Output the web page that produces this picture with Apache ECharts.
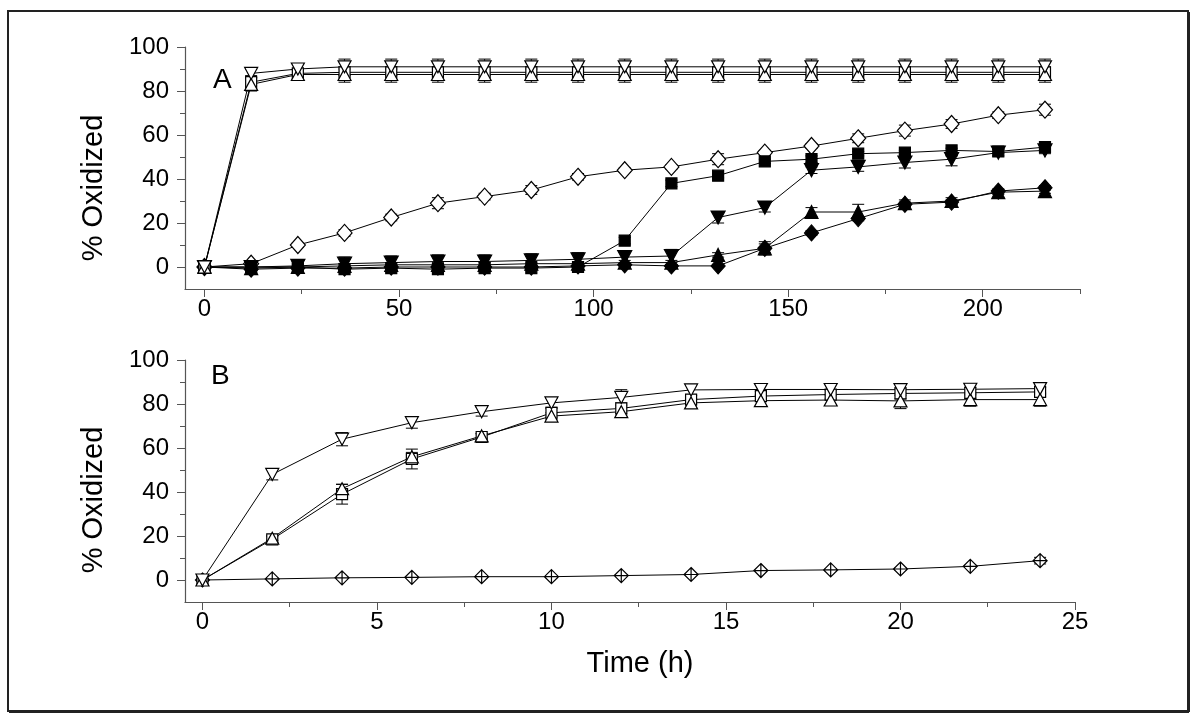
<!DOCTYPE html>
<html><head><meta charset="utf-8">
<script src="https://cdn.jsdelivr.net/npm/echarts@6/dist/echarts.min.js"></script>
<style>html,body{margin:0;padding:0;background:#fff}#c{width:1200px;height:724px}</style>
</head><body><div id="c"></div>
<script>
// ---------- Panel A data (time in h) ----------
const timeA = [0,12,24,36,48,60,72,84,96,108,120,132,144,156,168,180,192,204,216];
const aOpenDown   = [0,88,90,91,91,91,91,91,91,91,91,91,91,91,91,91,91,91,91];
const aOpenDownErr= [0,2,2.5,3.5,3.5,3.5,3.5,3.5,3.5,3.5,3.5,3.5,3.5,3.5,3.5,3.5,3.5,3.5,3.5];
const aOpenSquare = [0,84,88,88.5,88.5,88.5,88.5,88.5,88.5,88.5,88.5,88.5,88.5,88.5,88.5,88.5,88.5,88.5,88.5];
const aOpenSquareErr=[0,3,1.5,1.5,1.5,1.5,1.5,1.5,1.5,1.5,1.5,1.5,1.5,1.5,1.5,1.5,1.5,1.5,1.5];
const aOpenUp     = [0,83,87.5,87.5,87.5,87.5,87.5,87.5,87.5,87.5,87.5,87.5,87.5,87.5,87.5,87.5,87.5,87.5,87.5];
const aOpenUpErr  = [0,3,2.5,3.5,3.5,3.5,3.5,3.5,3.5,3.5,3.5,3.5,3.5,3.5,3.5,3.5,3.5,3.5,3.5];
const aOpenDiamond= [0,1.5,10,15.5,22.5,29,32,35,41,44,45.5,49,52,55,58.5,62,65,69,71.5];
const aOpenDiamondErr=[0,0.5,1,1.5,1.5,2.5,1.5,2,1.5,1,1,2.5,1,1,2,2.5,2,1.5,2.5];
const aSquare     = [0,0,0,-1,-0.5,-1,-0.5,-0.5,0,12,38,41.5,48,49,51.5,52,53,52.5,54.5];
const aSquareErr  = [0,0.5,0.5,0.5,0.5,0.5,0.5,0.5,0.5,1.5,1.5,1,1,1.5,1,1,1,1,1];
const aDown       = [0,0,0.5,1.5,2,2.5,2.5,3,3.5,4.5,5,22.5,27,44,45.5,47.5,49,52,53];
const aDownErr    = [0,1,1,3,3,3,3,3,3,3,3,2.5,2,1.5,2,2.5,3,1.5,1.5];
const aUp         = [0,-0.5,0,0.5,1,1,1,1.5,1.5,2,2,5.5,8.5,25,25,29,30,34,34.5];
const aUpErr      = [0,1,1,1,1,1,1,1,1,1,1,1,2,2,3.5,1.5,1.5,1,1];
const aDiamond    = [0,-1,-0.5,-0.5,0,0,0,0,0.5,1,0.5,0.5,8.5,15.5,22,28.5,29.5,34.5,36];
const aDiamondErr = [0,0.5,0.5,0.5,0.5,0.5,0.5,0.5,0.5,0.5,0.5,0.5,3,1,1,1,1,1,1];

// ---------- Panel B data ----------
const timeB = [0,2,4,6,8,10,12,14,16,18,20,22,24];
const bOpenDown    = [0,48,64,71.5,76.5,80.5,83,86.4,86.6,86.6,86.5,86.7,87];
const bOpenDownErr = [0,2.5,3,2.5,2,2,3.5,2.5,2.5,2.5,2.5,2.5,2.5];
const bOpenSquare  = [0,18.5,39,55,65,76,78,82,83.6,84.3,84.8,85.1,85.5];
const bOpenSquareErr=[0,1.5,4.5,4.5,1.5,2,2.5,2,2,2,2.5,2.5,2];
const bOpenUp      = [0,19,41.5,56,65.5,74.5,76.5,80.5,81.5,81.8,81.4,82,82];
const bOpenUpErr   = [0,1,2,2,1,1.5,2,2,2.5,2.5,3.5,3,3];
const bCrossDiamond= [0,0.5,1,1.2,1.5,1.5,2,2.5,4.3,4.6,5,6.2,8.8];
const bCrossDiamondErr=[0,0.5,0.5,0.5,0.5,0.5,0.5,0.5,0.5,0.5,0.5,0.5,1.5];

// ---------- Tick values ----------
const yMajor = [0,20,40,60,80,100];
const yMinor = [10,30,50,70,90];
const xMajorA = [0,50,100,150,200];
const xMinorA = [25,75,125,175,225];
const xMajorB = [0,5,10,15,20,25];
const xMinorB = [2.5,7.5,12.5,17.5,22.5];

const FONT = '"Liberation Sans", Arial, Helvetica, sans-serif';
const AX = '#555';
const crossDiamond = 'path://M10,0 L20,10 L10,20 L0,10 Z M10,0 L10,20 M0,10 L20,10';

function pairs(xs, ys){ return xs.map((x,i)=>[x, ys[i]]); }
function triples(xs, ys, es){ return xs.map((x,i)=>[x, ys[i], es[i]]); }

function errRender(params, api){
  const x = api.value(0), y = api.value(1), e = api.value(2);
  if (!e) return null;
  const hi = api.coord([x, y + e]), lo = api.coord([x, y - e]);
  const w = 6;
  const st = {stroke:'#000', lineWidth:1, fill:null};
  return {type:'group', children:[
    {type:'line', shape:{x1:hi[0],y1:hi[1],x2:lo[0],y2:lo[1]}, style:st},
    {type:'line', shape:{x1:hi[0]-w,y1:hi[1],x2:hi[0]+w,y2:hi[1]}, style:st},
    {type:'line', shape:{x1:lo[0]-w,y1:lo[1],x2:lo[0]+w,y2:lo[1]}, style:st}
  ]};
}

function lineS(ax, xs, ys, symbol, size, filled, rotate){
  return {
    type:'line', xAxisIndex:ax, yAxisIndex:ax, data:pairs(xs,ys),
    symbol:symbol, symbolSize:size, symbolRotate:rotate||0, showAllSymbol:true,
    lineStyle:{color:'#000', width:1}, z:3, animation:false,
    itemStyle:{color: filled ? '#000' : '#fff', borderColor:'#000', borderWidth:1.2, opacity:1}
  };
}
function errS(ax, xs, ys, es){
  return {type:'custom', xAxisIndex:ax, yAxisIndex:ax, renderItem:errRender,
    data:triples(xs,ys,es), encode:{x:0,y:1}, z:2, animation:false, silent:true};
}

function xAxisMajor(grid, min, max, major){
  return {type:'value', gridIndex:grid, min:min, max:max, position:'bottom',
    axisLine:{show:true, onZero:false, lineStyle:{color:AX, width:1.2}},
    axisTick:{show:true, customValues:major, length:8, inside:false, lineStyle:{color:AX}},
    axisLabel:{show:true, customValues:major, color:'#000', fontSize:24, fontFamily:FONT, margin:8},
    splitLine:{show:false}};
}
function xAxisMinor(grid, min, max, minor){
  return {type:'value', gridIndex:grid, min:min, max:max, position:'bottom',
    axisLine:{show:false, onZero:false},
    axisTick:{show:true, customValues:minor, length:5, lineStyle:{color:AX}},
    axisLabel:{show:false}, splitLine:{show:false}};
}
function yAxisMajor(grid){
  return {type:'value', gridIndex:grid, min:-10, max:100, position:'left',
    axisLine:{show:true, onZero:false, lineStyle:{color:AX, width:1.2}},
    axisTick:{show:true, customValues:yMajor, length:8, lineStyle:{color:AX}},
    axisLabel:{show:true, customValues:yMajor, color:'#000', fontSize:24, fontFamily:FONT, margin:16},
    splitLine:{show:false}};
}
function yAxisMinor(grid){
  return {type:'value', gridIndex:grid, min:-10, max:100, position:'left',
    axisLine:{show:false, onZero:false},
    axisTick:{show:true, customValues:yMinor, length:5, lineStyle:{color:AX}},
    axisLabel:{show:false}, splitLine:{show:false}};
}

const chart = echarts.init(document.getElementById('c'), null, {renderer:'canvas'});
const series = [
  // Panel A (axis index 0)
  errS(0,timeA,aOpenDiamond,aOpenDiamondErr),
  errS(0,timeA,aSquare,aSquareErr),
  errS(0,timeA,aDown,aDownErr),
  errS(0,timeA,aUp,aUpErr),
  errS(0,timeA,aDiamond,aDiamondErr),
  errS(0,timeA,aOpenDown,aOpenDownErr),
  errS(0,timeA,aOpenSquare,aOpenSquareErr),
  errS(0,timeA,aOpenUp,aOpenUpErr),
  lineS(0,timeA,aOpenDiamond,'diamond',[15,17],false),
  lineS(0,timeA,aDiamond,'diamond',[14,16],true),
  lineS(0,timeA,aUp,'triangle',[13,13],true),
  lineS(0,timeA,aDown,'triangle',[14,13],true,180),
  lineS(0,timeA,aSquare,'rect',[11,11],true),
  lineS(0,timeA,aOpenSquare,'rect',[11,11],false),
  lineS(0,timeA,aOpenUp,'triangle',[13,12],false),
  lineS(0,timeA,aOpenDown,'triangle',[13,12],false,180),
  // Panel B (axis index 2)
  errS(2,timeB,bOpenDown,bOpenDownErr),
  errS(2,timeB,bOpenSquare,bOpenSquareErr),
  errS(2,timeB,bOpenUp,bOpenUpErr),
  errS(2,timeB,bCrossDiamond,bCrossDiamondErr),
  lineS(2,timeB,bCrossDiamond,crossDiamond,[14,14],false),
  lineS(2,timeB,bOpenSquare,'rect',[11,11],false),
  lineS(2,timeB,bOpenUp,'triangle',[13,12],false),
  lineS(2,timeB,bOpenDown,'triangle',[13,12],false,180)
];

chart.setOption({
  animation:false,
  backgroundColor:'#fff',
  grid:[
    {left:185, top:47, width:895, height:242},
    {left:185, top:360, width:890, height:242}
  ],
  xAxis:[
    xAxisMajor(0,-5,225,xMajorA), xAxisMinor(0,-5,225,xMinorA),
    xAxisMajor(1,-0.5,25,xMajorB), xAxisMinor(1,-0.5,25,xMinorB)
  ],
  yAxis:[ yAxisMajor(0), yAxisMinor(0), yAxisMajor(1), yAxisMinor(1) ],
  series:series,
  graphic:[
    {type:'rect', shape:{x:8,y:11,width:1180,height:700}, style:{fill:null, stroke:'#222', lineWidth:2}, z:0},
    {type:'line', shape:{x1:9,y1:712,x2:1189,y2:712}, style:{stroke:'#222', lineWidth:2}},
    {type:'line', shape:{x1:1189,y1:12,x2:1189,y2:712}, style:{stroke:'#222', lineWidth:2}},
    {type:'text', left:213, top:66, style:{text:'A', font:'28px '+FONT, fill:'#000'}},
    {type:'text', left:211, top:362, style:{text:'B', font:'28px '+FONT, fill:'#000'}},
    {type:'text', x:94, y:188, rotation:Math.PI/2, style:{text:'% Oxidized', font:'29px '+FONT, fill:'#000', align:'center', verticalAlign:'middle'}},
    {type:'text', x:94, y:500, rotation:Math.PI/2, style:{text:'% Oxidized', font:'29px '+FONT, fill:'#000', align:'center', verticalAlign:'middle'}},
    {type:'text', x:640, y:664, style:{text:'Time (h)', font:'29px '+FONT, fill:'#000', align:'center', verticalAlign:'middle'}}
  ]
});
</script>
</body></html>
